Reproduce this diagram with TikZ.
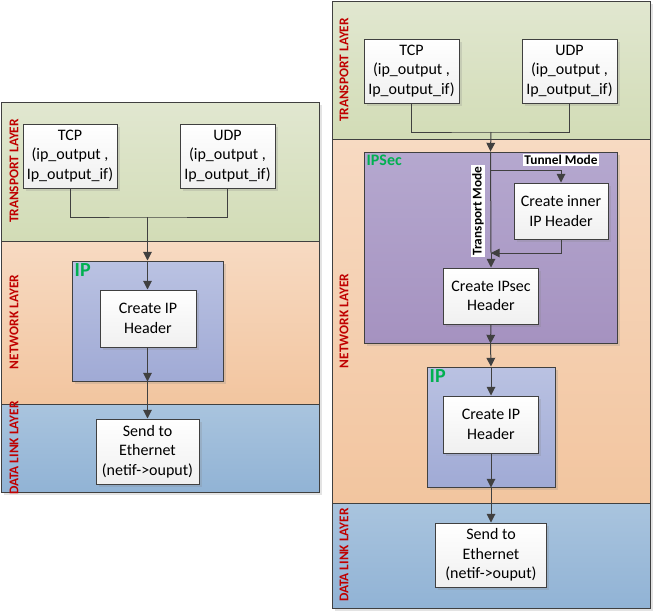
\documentclass[tikz,border=0pt]{standalone}
\usepackage{fontspec}
\setmainfont{Carlito}
\usetikzlibrary{arrows.meta,shadows,fit}

\definecolor{borde}{HTML}{404040}
\definecolor{rojocapa}{HTML}{C00000}
\definecolor{verdeip}{HTML}{00B050}
\definecolor{transA}{HTML}{E1E7D0}
\definecolor{transB}{HTML}{D2DCB6}
\definecolor{redA}{HTML}{F7DAC2}
\definecolor{redB}{HTML}{F2C59F}
\definecolor{enlA}{HTML}{A9C4DE}
\definecolor{enlB}{HTML}{91B3D5}
\definecolor{ipA}{HTML}{BAC2E2}
\definecolor{ipB}{HTML}{A0AAD5}
\definecolor{secA}{HTML}{B5A8CF}
\definecolor{secB}{HTML}{A592C0}

\begin{document}
\begin{tikzpicture}[x=0.75pt,y=-0.75pt,line width=0.75pt,>={Triangle[length=6.5pt,width=6.5pt]},
  sombra/.style={drop shadow={opacity=0.22,shadow xshift=2pt,shadow yshift=-2pt}},
  capa/.style={draw=borde,inner sep=0pt,sombra},
  transporte/.style={capa,top color=transA,bottom color=transB},
  red/.style={capa,top color=redA,bottom color=redB},
  enlace/.style={capa,top color=enlA,bottom color=enlB},
  ipcaja/.style={capa,top color=ipA,bottom color=ipB},
  seccaja/.style={capa,top color=secA,bottom color=secB},
  caja/.style={draw=borde,top color=white,bottom color=black!6,align=center,inner sep=0pt,
    font=\fontsize{12}{14.5}\selectfont,sombra},
  nombrecapa/.style={rotate=90,text=rojocapa,font=\fontsize{10}{11}\selectfont\bfseries},
  etiq/.style={anchor=north west,text=verdeip,inner sep=2pt,font=\fontsize{#1}{#1}\selectfont\bfseries},
  modo/.style={fill=white,inner sep=1pt,font=\fontsize{10}{11}\selectfont\bfseries},
  flecha/.style={->,draw=borde},
  linea/.style={draw=borde}]
  \useasboundingbox (0,0) rectangle (653,611);

  % panel izquierdo: solo IP
  \node[transporte,fit={(1,102) (319,241)}] (transL) {};
  \node[red,fit={(1,241) (319,404)}] (redL) {};
  \node[enlace,fit={(1,404) (319,492)}] (enlL) {};
  \node[nombrecapa] (ntransL) at (14,171) {TRANSPORT LAYER};
  \node[nombrecapa] (nredL) at (14,322) {NETWORK LAYER};
  \node[nombrecapa] (nenlL) at (14,448) {DATA LINK LAYER};
  \node[caja,minimum width=70.5pt,minimum height=48pt] (tcpL) at (70,156) {TCP\\(ip\_output ,\\Ip\_output\_if)};
  \node[caja,minimum width=71.25pt,minimum height=48pt] (udpL) at (227.5,156) {UDP\\(ip\_output ,\\Ip\_output\_if)};
  \node[ipcaja,fit={(72,261) (223,381)}] (ipL) {};
  \node[etiq=15] (ipLtxt) at (ipL.north west) {IP};
  \node[caja,minimum width=72pt,minimum height=42.75pt] (crearL) at (148,318.5) {Create IP\\Header};
  \node[caja,minimum width=77.25pt,minimum height=48.75pt] (enviarL) at (147.5,451.5) {Send to\\Ethernet\\(netif->ouput)};
  \coordinate (juntaL) at (147.5,217);
  \draw[linea] (tcpL.south) |- (juntaL) -| (udpL.south);
  \draw[flecha] (juntaL) -- (ipL.north);
  \draw[flecha] (ipL.north) -- (crearL.north -| ipL.north);
  \draw[flecha] (crearL.south -| ipL.south) -- (ipL.south);
  \draw[flecha] (ipL.south) -- (enviarL.north);

  % panel derecho: IPSec + IP
  \node[transporte,fit={(332,1) (650,139)}] (transR) {};
  \node[red,fit={(332,139) (650,503)}] (redR) {};
  \node[enlace,fit={(332,503) (650,608)}] (enlR) {};
  \node[nombrecapa] (ntransR) at (344,70) {TRANSPORT LAYER};
  \node[nombrecapa] (nredR) at (344,321) {NETWORK LAYER};
  \node[nombrecapa] (nenlR) at (344,555) {DATA LINK LAYER};
  \node[caja,minimum width=71.25pt,minimum height=48pt] (tcpR) at (411.5,71) {TCP\\(ip\_output ,\\Ip\_output\_if)};
  \node[caja,minimum width=71.25pt,minimum height=48pt] (udpR) at (569.5,71) {UDP\\(ip\_output ,\\Ip\_output\_if)};
  \node[seccaja,fit={(364,152) (617,343)}] (ipsecR) {};
  \node[etiq=12] (ipsecRtxt) at (ipsecR.north west) {IPSec};
  \node[caja,minimum width=70.5pt,minimum height=42pt] (internoR) at (561,211) {Create inner\\IP Header};
  \node[caja,minimum width=71.25pt,minimum height=42pt] (crearsecR) at (491,296) {Create IPsec\\Header};
  \node[ipcaja,fit={(427,367) (555,487)}] (ipR) {};
  \node[etiq=15] (ipRtxt) at (ipR.north west) {IP};
  \node[caja,minimum width=71.25pt,minimum height=42.75pt] (crearR) at (491,424.5) {Create IP\\Header};
  \node[caja,minimum width=83.25pt,minimum height=48pt] (enviarR) at (491,555) {Send to\\Ethernet\\(netif->ouput)};
  \coordinate (juntaR) at (491,132);
  \coordinate (tunelR) at (491,170);
  \coordinate (vueltaR) at (491,253);
  \draw[linea] (tcpR.south) |- (juntaR) -| (udpR.south);
  \draw[flecha] (juntaR) -- (ipsecR.north);
  \draw[linea] (ipsecR.north) -- (vueltaR);
  % modo tunel
  \draw[flecha] (tunelR) -| (internoR.north);
  \draw[flecha] (internoR.south) |- (vueltaR);
  \draw[flecha] (vueltaR) -- (crearsecR.north);
  \draw[flecha] (crearsecR.south) -- (ipsecR.south);
  \node[modo] (tuneltxt) at (561,160) {Tunnel Mode};
  \node[modo,rotate=90] (transtxt) at (478,211) {Transport Mode};
  \draw[flecha] (ipsecR.south) -- (ipR.north);
  \draw[flecha] (ipR.north) -- (crearR.north);
  \draw[flecha] (crearR.south) -- (ipR.south);
  \draw[flecha] (ipR.south) -- (enviarR.north);
\end{tikzpicture}
\end{document}
